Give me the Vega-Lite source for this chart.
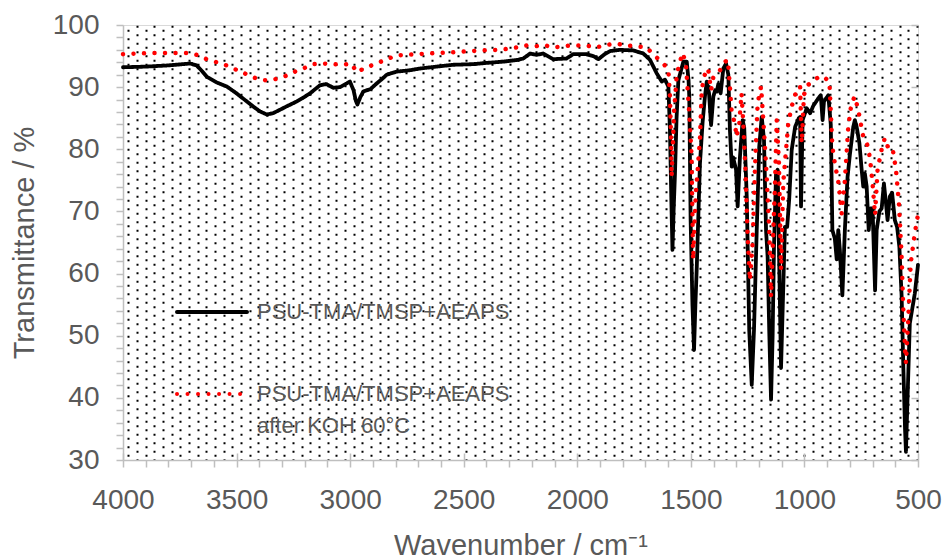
{
  "$schema": "https://vega.github.io/schema/vega-lite/v6.json",
  "width": 795,
  "height": 435,
  "autosize": {"type": "none"},
  "padding": {"left": 123, "top": 25, "right": 26, "bottom": 99},
  "background": "white",
  "config": {"view": {"stroke": "#d9d9d9", "strokeWidth": 1}, "font": "Liberation Sans"},
  "datasets": {
    "before": [
      {"wn":4000,"T":93.2},{"wn":3900,"T":93.3},{"wn":3800,"T":93.5},{"wn":3705,"T":93.8},{"wn":3676,"T":93.5},{"wn":3650,"T":92.5},{"wn":3632,"T":91.7},{"wn":3590,"T":90.8},{"wn":3543,"T":90.1},{"wn":3500,"T":89.0},{"wn":3455,"T":87.7},{"wn":3420,"T":86.7},{"wn":3397,"T":86.1},{"wn":3367,"T":85.6},{"wn":3340,"T":85.8},{"wn":3323,"T":86.1},{"wn":3280,"T":86.9},{"wn":3235,"T":87.7},{"wn":3180,"T":88.9},{"wn":3133,"T":90.3},{"wn":3105,"T":90.5},{"wn":3074,"T":89.9},{"wn":3045,"T":90.0},{"wn":3015,"T":90.6},{"wn":3001,"T":90.9},{"wn":2985,"T":89.5},{"wn":2975,"T":87.8},{"wn":2968,"T":87.2},{"wn":2955,"T":88.4},{"wn":2942,"T":89.3},{"wn":2910,"T":89.7},{"wn":2883,"T":90.6},{"wn":2860,"T":91.3},{"wn":2839,"T":92.0},{"wn":2795,"T":92.5},{"wn":2740,"T":92.7},{"wn":2692,"T":93.0},{"wn":2620,"T":93.3},{"wn":2546,"T":93.6},{"wn":2458,"T":93.7},{"wn":2400,"T":93.9},{"wn":2326,"T":94.1},{"wn":2260,"T":94.4},{"wn":2238,"T":94.6},{"wn":2208,"T":95.4},{"wn":2180,"T":95.2},{"wn":2150,"T":95.4},{"wn":2107,"T":94.5},{"wn":2048,"T":94.6},{"wn":2018,"T":95.3},{"wn":1960,"T":95.3},{"wn":1930,"T":95.0},{"wn":1907,"T":94.5},{"wn":1880,"T":95.3},{"wn":1856,"T":95.8},{"wn":1812,"T":96.0},{"wn":1753,"T":95.9},{"wn":1709,"T":95.4},{"wn":1680,"T":94.4},{"wn":1650,"T":92.2},{"wn":1628,"T":90.9},{"wn":1614,"T":91.2},{"wn":1599,"T":90.1},{"wn":1592,"T":83.0},{"wn":1586,"T":72.0},{"wn":1581,"T":63.8},{"wn":1576,"T":70.0},{"wn":1570,"T":76.0},{"wn":1563,"T":85.0},{"wn":1555,"T":91.1},{"wn":1533,"T":94.1},{"wn":1518,"T":94.1},{"wn":1510,"T":91.0},{"wn":1507,"T":88.5},{"wn":1501,"T":68.6},{"wn":1493,"T":55.0},{"wn":1486,"T":47.7},{"wn":1480,"T":55.0},{"wn":1474,"T":61.0},{"wn":1460,"T":77.7},{"wn":1448,"T":84.5},{"wn":1438,"T":88.5},{"wn":1430,"T":90.9},{"wn":1420,"T":89.0},{"wn":1411,"T":83.9},{"wn":1401,"T":88.5},{"wn":1393,"T":89.5},{"wn":1386,"T":89.3},{"wn":1379,"T":90.5},{"wn":1369,"T":89.0},{"wn":1357,"T":93.0},{"wn":1345,"T":93.8},{"wn":1335,"T":92.0},{"wn":1328,"T":83.1},{"wn":1320,"T":77.2},{"wn":1314,"T":78.7},{"wn":1301,"T":76.7},{"wn":1294,"T":70.8},{"wn":1284,"T":78.7},{"wn":1272,"T":84.7},{"wn":1265,"T":83.5},{"wn":1254,"T":72.4},{"wn":1243,"T":50.9},{"wn":1232,"T":42.1},{"wn":1222,"T":51.0},{"wn":1210,"T":67.0},{"wn":1199,"T":80.4},{"wn":1188,"T":85.2},{"wn":1178,"T":81.5},{"wn":1169,"T":67.0},{"wn":1162,"T":62.7},{"wn":1155,"T":50.9},{"wn":1147,"T":39.7},{"wn":1140,"T":50.0},{"wn":1134,"T":64.3},{"wn":1125,"T":76.1},{"wn":1118,"T":76.7},{"wn":1111,"T":61.7},{"wn":1103,"T":44.8},{"wn":1093,"T":58.0},{"wn":1086,"T":67.5},{"wn":1076,"T":67.5},{"wn":1067,"T":72.0},{"wn":1056,"T":79.9},{"wn":1041,"T":83.6},{"wn":1025,"T":85.0},{"wn":1019,"T":85.2},{"wn":1015,"T":70.8},{"wn":1008,"T":84.7},{"wn":990,"T":86.6},{"wn":975,"T":85.8},{"wn":961,"T":87.0},{"wn":939,"T":88.2},{"wn":928,"T":88.7},{"wn":920,"T":84.7},{"wn":914,"T":87.7},{"wn":895,"T":88.7},{"wn":884,"T":84.0},{"wn":877,"T":67.0},{"wn":873,"T":66.5},{"wn":866,"T":65.6},{"wn":858,"T":62.3},{"wn":851,"T":67.0},{"wn":844,"T":63.8},{"wn":833,"T":56.5},{"wn":822,"T":67.0},{"wn":810,"T":75.6},{"wn":800,"T":79.1},{"wn":785,"T":83.6},{"wn":778,"T":84.7},{"wn":770,"T":83.6},{"wn":758,"T":81.0},{"wn":748,"T":76.7},{"wn":741,"T":74.0},{"wn":734,"T":76.1},{"wn":726,"T":74.0},{"wn":717,"T":67.0},{"wn":709,"T":70.5},{"wn":700,"T":70.5},{"wn":689,"T":57.3},{"wn":682,"T":67.0},{"wn":670,"T":70.0},{"wn":660,"T":70.5},{"wn":650,"T":74.5},{"wn":641,"T":71.3},{"wn":634,"T":68.6},{"wn":624,"T":72.4},{"wn":614,"T":73.0},{"wn":602,"T":68.6},{"wn":592,"T":67.5},{"wn":582,"T":64.3},{"wn":572,"T":56.3},{"wn":565,"T":45.6},{"wn":557,"T":34.9},{"wn":553,"T":31.3},{"wn":546,"T":40.0},{"wn":536,"T":52.0},{"wn":514,"T":56.8},{"wn":500,"T":61.4}
    ],
    "after": [
      {"wn":4000,"T":95.3},{"wn":3870,"T":95.5},{"wn":3720,"T":95.5},{"wn":3676,"T":95.2},{"wn":3632,"T":94.5},{"wn":3551,"T":93.6},{"wn":3470,"T":92.3},{"wn":3420,"T":91.5},{"wn":3382,"T":91.1},{"wn":3338,"T":91.2},{"wn":3290,"T":91.7},{"wn":3250,"T":92.4},{"wn":3200,"T":93.1},{"wn":3162,"T":93.7},{"wn":3118,"T":93.8},{"wn":3038,"T":93.6},{"wn":2994,"T":93.8},{"wn":2971,"T":92.4},{"wn":2956,"T":92.7},{"wn":2920,"T":93.3},{"wn":2883,"T":93.8},{"wn":2839,"T":94.5},{"wn":2795,"T":95.1},{"wn":2663,"T":95.4},{"wn":2546,"T":95.6},{"wn":2428,"T":95.9},{"wn":2340,"T":96.0},{"wn":2280,"T":96.3},{"wn":2223,"T":96.7},{"wn":2179,"T":96.6},{"wn":2150,"T":96.8},{"wn":2106,"T":96.4},{"wn":2033,"T":96.7},{"wn":1960,"T":96.7},{"wn":1916,"T":96.4},{"wn":1872,"T":96.8},{"wn":1828,"T":97.0},{"wn":1782,"T":96.7},{"wn":1694,"T":96.4},{"wn":1665,"T":95.2},{"wn":1628,"T":94.1},{"wn":1599,"T":92.8},{"wn":1592,"T":88.5},{"wn":1587,"T":81.6},{"wn":1585,"T":75.6},{"wn":1580,"T":80.0},{"wn":1574,"T":86.0},{"wn":1562,"T":92.0},{"wn":1548,"T":94.1},{"wn":1536,"T":95.5},{"wn":1522,"T":93.8},{"wn":1507,"T":85.8},{"wn":1497,"T":79.0},{"wn":1490,"T":62.2},{"wn":1484,"T":68.0},{"wn":1478,"T":73.0},{"wn":1471,"T":76.2},{"wn":1460,"T":81.6},{"wn":1452,"T":89.6},{"wn":1433,"T":93.0},{"wn":1423,"T":92.7},{"wn":1411,"T":89.5},{"wn":1401,"T":91.6},{"wn":1386,"T":92.2},{"wn":1372,"T":92.7},{"wn":1349,"T":94.1},{"wn":1337,"T":94.4},{"wn":1328,"T":90.0},{"wn":1320,"T":85.8},{"wn":1306,"T":84.2},{"wn":1299,"T":82.0},{"wn":1287,"T":84.0},{"wn":1277,"T":89.0},{"wn":1270,"T":84.7},{"wn":1259,"T":76.2},{"wn":1250,"T":65.9},{"wn":1240,"T":58.9},{"wn":1228,"T":65.0},{"wn":1218,"T":76.7},{"wn":1206,"T":87.4},{"wn":1191,"T":90.1},{"wn":1178,"T":83.0},{"wn":1167,"T":76.2},{"wn":1155,"T":67.0},{"wn":1147,"T":56.3},{"wn":1137,"T":67.0},{"wn":1130,"T":73.8},{"wn":1122,"T":84.7},{"wn":1112,"T":77.7},{"wn":1103,"T":60.6},{"wn":1093,"T":74.7},{"wn":1083,"T":79.0},{"wn":1071,"T":84.2},{"wn":1056,"T":86.9},{"wn":1034,"T":89.6},{"wn":1019,"T":90.1},{"wn":1012,"T":81.0},{"wn":1002,"T":88.8},{"wn":983,"T":90.4},{"wn":961,"T":91.0},{"wn":932,"T":91.8},{"wn":910,"T":91.5},{"wn":890,"T":90.9},{"wn":877,"T":80.4},{"wn":866,"T":77.7},{"wn":851,"T":74.8},{"wn":836,"T":69.7},{"wn":822,"T":75.0},{"wn":807,"T":83.6},{"wn":793,"T":87.4},{"wn":778,"T":88.5},{"wn":763,"T":86.3},{"wn":741,"T":82.0},{"wn":719,"T":80.4},{"wn":709,"T":77.7},{"wn":700,"T":74.5},{"wn":689,"T":69.4},{"wn":678,"T":76.7},{"wn":660,"T":80.0},{"wn":646,"T":81.8},{"wn":631,"T":80.2},{"wn":612,"T":80.2},{"wn":597,"T":76.7},{"wn":584,"T":71.3},{"wn":572,"T":62.7},{"wn":565,"T":54.6},{"wn":557,"T":47.7},{"wn":553,"T":45.6},{"wn":543,"T":52.6},{"wn":532,"T":61.7},{"wn":514,"T":66.5},{"wn":500,"T":69.5}
    ]
  },
  "layer": [
    {
      "data": {"name": "before"},
      "mark": {"type": "line", "opacity": 0},
      "encoding": {
        "x": {
          "field": "wn", "type": "quantitative",
          "scale": {"domain": [500, 4000], "reverse": true, "nice": false, "zero": false},
          "axis": {
            "orient": "bottom",
            "values": [3976.7,3938.5,3900.4,3862.2,3824.1,3785.9,3747.8,3709.6,3671.5,3633.3,3595.1,3557.0,3518.8,3480.7,3442.5,3404.4,3366.2,3328.0,3289.9,3251.7,3213.6,3175.4,3137.3,3099.1,3060.9,3022.8,2984.6,2946.5,2908.3,2870.2,2832.0,2793.9,2755.7,2717.5,2679.4,2641.2,2603.1,2564.9,2526.8,2488.6,2450.5,2412.3,2374.1,2336.0,2297.8,2259.7,2221.5,2183.4,2145.2,2107.1,2068.9,2030.7,1992.6,1954.4,1916.3,1878.1,1840.0,1801.8,1763.7,1725.5,1687.3,1649.2,1611.0,1572.9,1534.7,1496.6,1458.4,1420.3,1382.1,1343.9,1305.8,1267.6,1229.5,1191.3,1153.2,1115.0,1076.9,1038.7,1000.5,962.4,924.2,886.1,847.9,809.8,771.6,733.5,695.3,657.1,619.0,580.8,542.7,504.5],
            "labels": false, "ticks": false, "domain": false, "title": null,
            "grid": true, "gridColor": "#000000", "gridWidth": 2, "gridDash": [2, 6.5],
            "gridDashOffset": {"condition": {"test": "round((3976.7 - datum.value) / 38.156) % 2 === 0", "value": 4.2}, "value": 8.3}
          }
        },
        "y": {"field": "T", "type": "quantitative", "scale": {"domain": [30, 100], "nice": false, "zero": false}, "axis": null}
      }
    },
    {
      "data": {"name": "before"},
      "mark": {"type": "line", "strokeWidth": 3.8, "strokeCap": "round", "strokeJoin": "round"},
      "encoding": {
        "x": {
          "field": "wn", "type": "quantitative", "title": "Wavenumber / cm⁻¹",
          "scale": {"domain": [500, 4000], "reverse": true, "nice": false, "zero": false},
          "axis": {
            "orient": "bottom",
            "values": [500,600,700,800,900,1000,1100,1200,1300,1400,1500,1600,1700,1800,1900,2000,2100,2200,2300,2400,2500,2600,2700,2800,2900,3000,3100,3200,3300,3400,3500,3600,3700,3800,3900,4000],
            "format": "d",
            "labelExpr": "datum.value % 500 === 0 ? datum.label : ''",
            "labelFlush": false, "labelOverlap": false, "labelBound": false,
            "labelFont": "Liberation Sans", "labelFontSize": 28, "labelColor": "#595959", "labelPadding": 19,
            "tickSize": 7, "tickColor": "#bfbfbf", "tickWidth": 1.5,
            "domainColor": "#bfbfbf", "domainWidth": 1.5,
            "titleFont": "Liberation Sans", "titleFontSize": 29, "titleFontWeight": "normal", "titleColor": "#595959",
            "titleY": 94, "titleBaseline": "alphabetic",
            "grid": true, "gridColor": "#bfbfbf", "gridWidth": 1.5, "gridDash": [7, 428], "gridDashOffset": 7,
            "gridOpacity": {"condition": {"test": "datum.value % 500 === 0", "value": 1}, "value": 0}
          }
        },
        "y": {
          "field": "T", "type": "quantitative", "title": "Transmittance / %",
          "scale": {"domain": [30, 100], "nice": false, "zero": false},
          "axis": {
            "orient": "left",
            "values": [30,32,34,36,38,40,42,44,46,48,50,52,54,56,58,60,62,64,66,68,70,72,74,76,78,80,82,84,86,88,90,92,94,96,98,100],
            "labelExpr": "datum.value % 10 === 0 ? datum.label : ''",
            "labelFlush": false, "labelOverlap": false, "labelBound": false,
            "labelFont": "Liberation Sans", "labelFontSize": 28, "labelColor": "#595959", "labelPadding": 17,
            "tickSize": 7, "tickColor": "#bfbfbf", "tickWidth": 1.5,
            "domainColor": "#bfbfbf", "domainWidth": 1.5,
            "titleFont": "Liberation Sans", "titleFontSize": 29, "titleFontWeight": "normal", "titleColor": "#595959",
            "titleX": -90, "titleBaseline": "alphabetic",
            "grid": true, "gridColor": "#bfbfbf", "gridWidth": 1.5, "gridDash": [7, 2000],
            "gridOpacity": {"condition": {"test": "datum.value % 10 === 0", "value": 1}, "value": 0}
          }
        },
        "color": {
          "datum": "PSU-TMA/TMSP+AEAPS", "type": "nominal",
          "scale": {"domain": ["PSU-TMA/TMSP+AEAPS", "PSU-TMA/TMSP+AEAPS after KOH 60°C"], "range": ["#000000", "#ff0000"]},
          "legend": {
            "orient": "none", "legendX": 52, "legendY": 250, "title": null, "padding": 0,
            "symbolType": "stroke", "symbolSize": 4900, "symbolStrokeWidth": 4,
            "labelFont": "Liberation Sans", "labelFontSize": 22, "labelColor": "#595959", "labelLimit": 0, "labelOffset": 8,
            "rowPadding": 34,
            "labelExpr": "datum.value === 'PSU-TMA/TMSP+AEAPS after KOH 60°C' ? ['PSU-TMA/TMSP+AEAPS', 'after KOH 60°C'] : datum.label",
            "encode": {
              "symbols": {"update": {"strokeCap": {"value": "round"}}},
              "labels": {"update": {"lineHeight": {"value": 32}}}
            }
          }
        },
        "strokeDash": {
          "datum": "PSU-TMA/TMSP+AEAPS", "type": "nominal",
          "scale": {"domain": ["PSU-TMA/TMSP+AEAPS", "PSU-TMA/TMSP+AEAPS after KOH 60°C"], "range": [[1, 0], [0.01, 10.5]]},
          "legend": {
            "orient": "none", "legendX": 52, "legendY": 250, "title": null, "padding": 0,
            "symbolType": "stroke", "symbolSize": 4900, "symbolStrokeWidth": 4,
            "labelFont": "Liberation Sans", "labelFontSize": 22, "labelColor": "#595959", "labelLimit": 0, "labelOffset": 8,
            "rowPadding": 34,
            "labelExpr": "datum.value === 'PSU-TMA/TMSP+AEAPS after KOH 60°C' ? ['PSU-TMA/TMSP+AEAPS', 'after KOH 60°C'] : datum.label",
            "encode": {
              "symbols": {"update": {"strokeCap": {"value": "round"}}},
              "labels": {"update": {"lineHeight": {"value": 32}}}
            }
          }
        }
      }
    },
    {
      "data": {"name": "after"},
      "mark": {"type": "line", "strokeWidth": 4.5, "strokeCap": "round", "strokeJoin": "round"},
      "encoding": {
        "x": {"field": "wn", "type": "quantitative", "scale": {"domain": [500, 4000], "reverse": true, "nice": false, "zero": false}, "axis": null},
        "y": {"field": "T", "type": "quantitative", "scale": {"domain": [30, 100], "nice": false, "zero": false}, "axis": null},
        "color": {"datum": "PSU-TMA/TMSP+AEAPS after KOH 60°C", "type": "nominal"},
        "strokeDash": {"datum": "PSU-TMA/TMSP+AEAPS after KOH 60°C", "type": "nominal"}
      }
    }
  ],
  "resolve": {"axis": {"x": "independent", "y": "independent"}}
}
